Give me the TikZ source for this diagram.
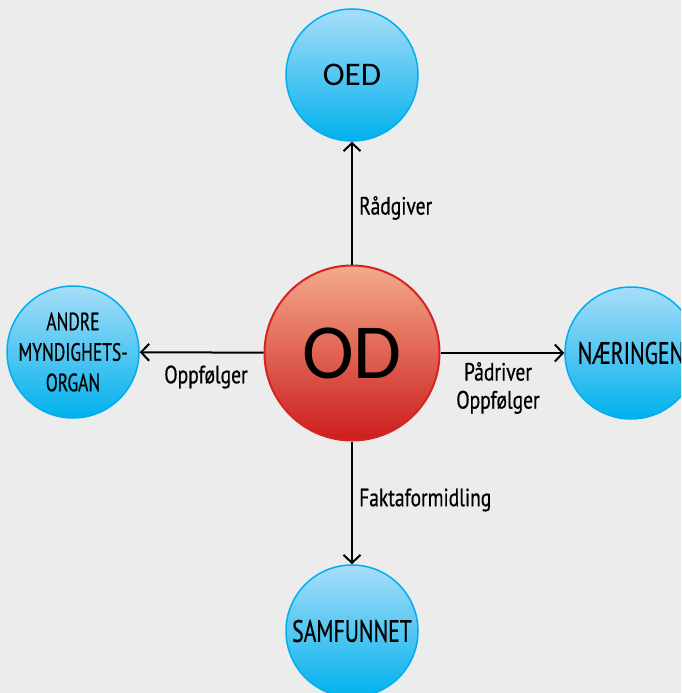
\documentclass[tikz,border=0pt]{standalone}
\usepackage{fontspec}
\usetikzlibrary{arrows.meta}
\newfontfamily\condfont[FakeStretch=0.78,FakeBold=0.6]{PT Sans}
\newfontfamily\narrowfont[FakeStretch=0.70,FakeBold=0.6]{PT Sans}
\newfontfamily\calfont{Carlito}
\definecolor{bg}{HTML}{ECECEC}
\definecolor{bluetop}{HTML}{A8DDF8}
\definecolor{bluebot}{HTML}{00B1EC}
\definecolor{blueline}{HTML}{00AEEF}
\definecolor{redtop}{HTML}{F4AA8B}
\definecolor{redbot}{HTML}{CC1D1D}
\definecolor{redline}{HTML}{D42424}
\tikzset{
  bluenode/.style={circle, minimum size=132pt, inner sep=0pt, draw=blueline, line width=1.5pt,
    top color=bluetop, bottom color=bluebot, align=center},
  rednode/.style={circle, minimum size=175pt, inner sep=0pt, draw=redline, line width=2pt,
    top color=redtop, bottom color=redbot},
  conn/.style={line width=2pt, -{Straight Barb[length=8pt,width=17pt,line width=2pt]}},
  elabel/.style={font=\condfont\fontsize{25}{28}\selectfont, inner sep=0pt, align=center},
  smallc/.style={font=\narrowfont\fontsize{25}{30.5}\selectfont, align=center, inner sep=0pt},
  bigc/.style={font=\narrowfont\fontsize{31}{34}\selectfont},
}
\begin{document}
\begin{tikzpicture}[x=1pt,y=-1pt]
\fill[bg] (0,0) rectangle (681,693);
\useasboundingbox (0,0) rectangle (681,693);
\clip (0,0) rectangle (681,693);
\node[rednode, font=\calfont\fontsize{78}{80}\selectfont] (od) at (352,353) {OD};
\node[bluenode, font=\calfont\fontsize{33}{36}\selectfont] (oed) at (352,75) {OED};
\node[bluenode, label={[smallc]center:ANDRE\\MYNDIGHETS-\\ORGAN}] (andre) at (73,352) {};
\node[bluenode, bigc] (naer) at (631,353) {NÆRINGEN};
\node[bluenode, bigc] (samf) at (352,631) {SAMFUNNET};
\draw[conn] (od) -- (oed);
\draw[conn] (od) -- (andre);
\draw[conn] (od) -- (naer);
\draw[conn] (od) -- (samf);
\node[elabel, anchor=west] (l1) at (359,208) {Rådgiver};
\node[elabel] (l2) at (206,377) {Oppfølger};
\node[elabel] (l3) at (498,388) {Pådriver\\Oppfølger};
\node[elabel, anchor=west] (l4) at (359,500) {Faktaformidling};
\end{tikzpicture}
\end{document}
